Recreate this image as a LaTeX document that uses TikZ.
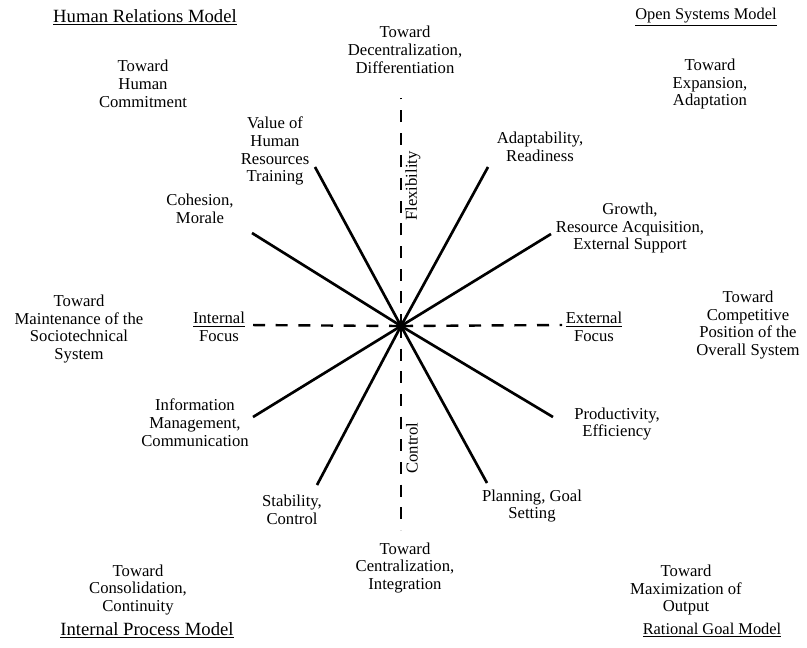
\documentclass[tikz,border=0pt]{standalone}
\usepackage{fontspec}
\setmainfont{Liberation Serif}
\begin{document}
\begin{tikzpicture}[x=0.75pt,y=-0.75pt,
  lbl/.style={align=center,inner sep=0pt,font=\fontsize{12.5}{13.4}\selectfont},
  title/.style={inner sep=0pt,font=\fontsize{14}{15}\selectfont},
  smalltitle/.style={inner sep=0pt,font=\fontsize{12.3}{13}\selectfont},
  ray/.style={line width=2pt},
  axisline/.style={line width=1.8pt,dash pattern=on 9pt off 8pt}]
\useasboundingbox (0,0) rectangle (807,647);

% quadrant titles
\node[title] (hrm) at (145,17) {\underline{Human Relations Model}};
\node[smalltitle] (osm) at (706,17) {\underline{Open Systems Model}};
\node[title] (ipm) at (147,630) {\underline{Internal Process Model}};
\node[smalltitle] (rgm) at (712,630) {\underline{Rational Goal Model}};

% "Toward ..." ends
\node[lbl] (thc) at (143,84) {Toward\\Human\\Commitment};
\node[lbl] (tdd) at (405,50) {Toward\\Decentralization,\\Differentiation};
\node[lbl] (tea) at (710,84) {Toward\\Expansion,\\Adaptation};
\node[lbl] (tms) at (79,329) {Toward\\Maintenance of the\\Sociotechnical\\System};
\node[lbl] (tcp) at (748,325) {Toward\\Competitive\\Position of the\\Overall System};
\node[lbl] (tci) at (405,568) {Toward\\Centralization,\\Integration};
\node[lbl] (tcc) at (138,590) {Toward\\Consolidation,\\Continuity};
\node[lbl] (tmo) at (686,590) {Toward\\Maximization of\\Output};

% criteria labels
\node[lbl] (vhr) at (275,151) {Value of\\Human\\Resources\\Training};
\node[lbl] (adr) at (540,147) {Adaptability,\\Readiness};
\node[lbl] (com) at (200,209) {Cohesion,\\Morale};
\node[lbl] (gra) at (630,228) {Growth,\\Resource Acquisition,\\External Support};
\node[lbl] (imc) at (195,423) {Information\\Management,\\Communication};
\node[lbl] (stc) at (292,510) {Stability,\\Control};
\node[lbl] (pgs) at (532,506) {Planning, Goal\\Setting};
\node[lbl] (pre) at (617,424) {Productivity,\\Efficiency};

% axis labels
\node[lbl] (inf) at (219,327) {\underline{Internal}\\Focus};
\node[lbl] (exf) at (594,327) {\underline{External}\\Focus};
\node[lbl,rotate=90] (flx) at (413,186) {Flexibility};
\node[lbl,rotate=90] (ctl) at (412,448) {Control};

% centre and axes
\coordinate (c) at (401,326);
\coordinate (vtop) at (401,98);
\coordinate (vbot) at (401,530);
\coordinate (hl) at (248,325);
\coordinate (hr) at (562,325);
\draw[axisline] (c) -- (vtop);
\draw[axisline] (c) -- (vbot);
\draw[axisline] (c) -- (hl);
\draw[axisline] (c) -- (hr);

% ray ends
\coordinate (evhr) at (315,167);
\coordinate (eadr) at (488,167);
\coordinate (ecom) at (252,233);
\coordinate (egra) at (551,234);
\coordinate (eimc) at (253,417);
\coordinate (estc) at (317,485);
\coordinate (epgs) at (487,483);
\coordinate (epre) at (553,417);
\foreach \e in {evhr,eadr,ecom,egra,eimc,estc,epgs,epre}
  \draw[ray] (c) -- (\e);
\fill (c) circle (3.5);
\end{tikzpicture}
\end{document}
